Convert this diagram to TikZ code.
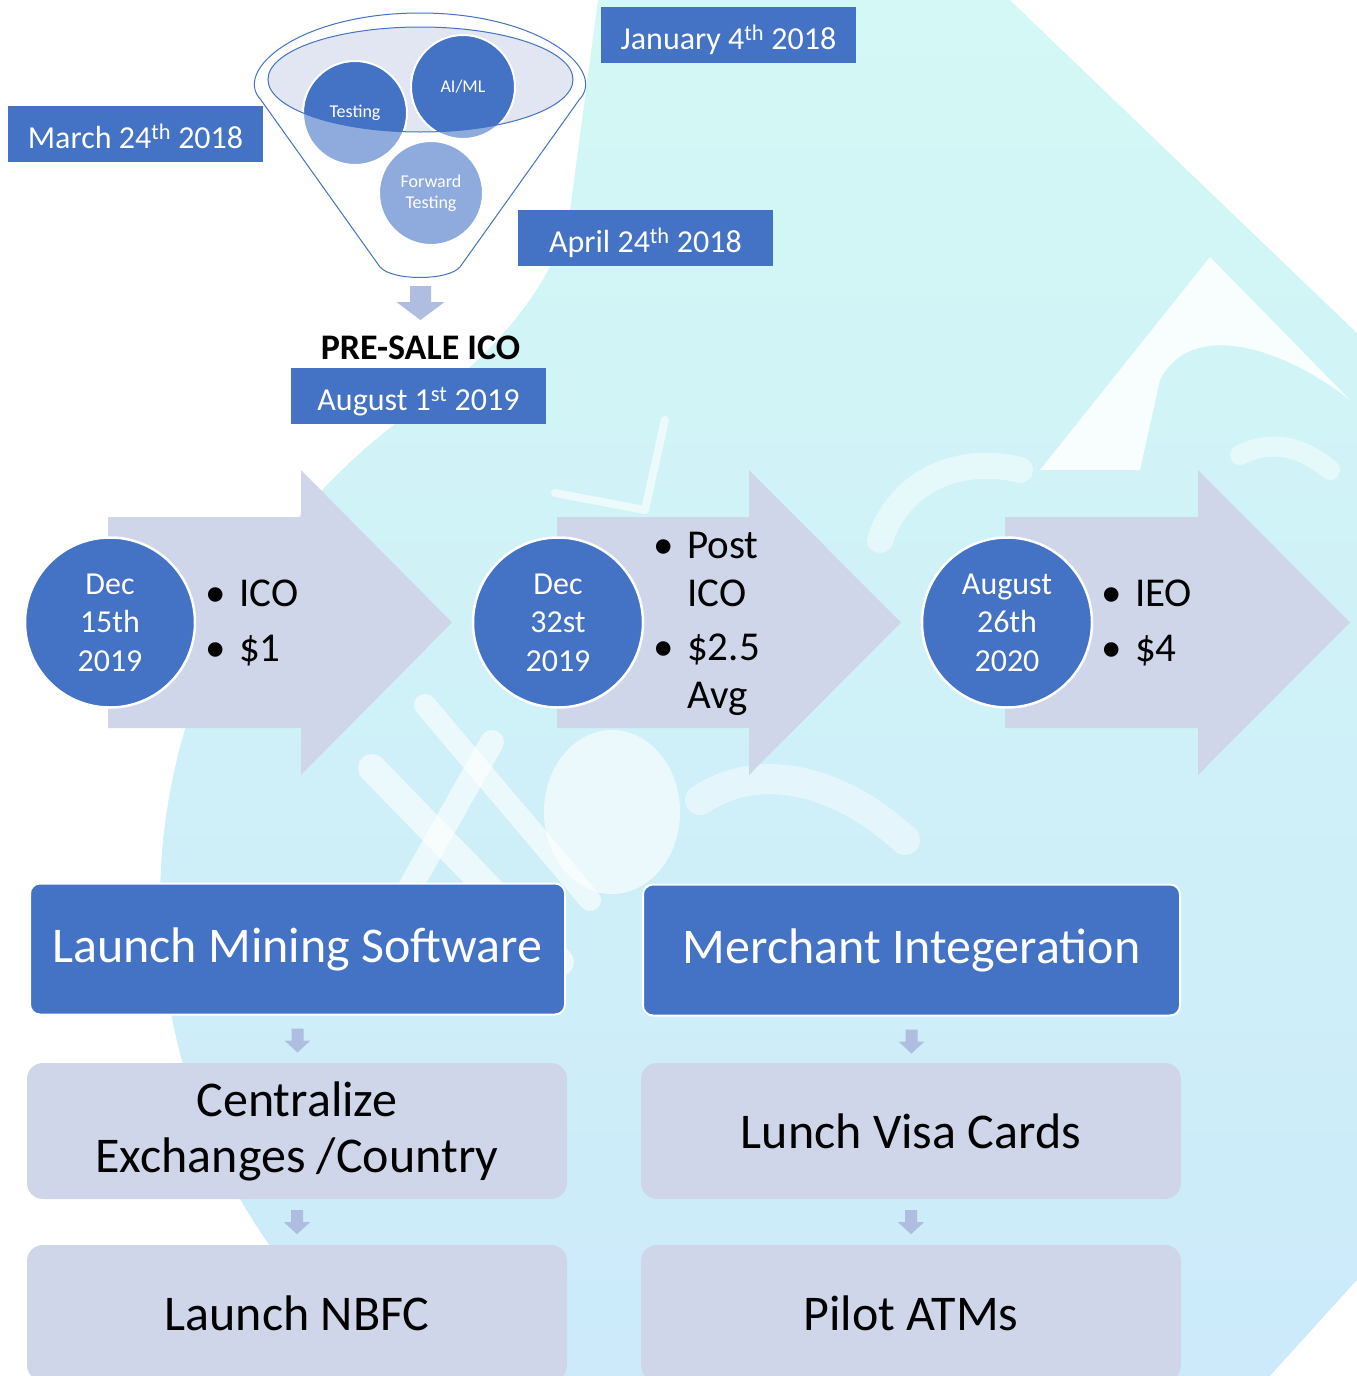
\documentclass[tikz,border=0pt]{standalone}
\usepackage{fontspec}
\setmainfont{Carlito}
\usetikzlibrary{calc}

\definecolor{boxblue}{HTML}{4472C4}
\definecolor{softblue}{HTML}{8FAADC}
\definecolor{palefill}{HTML}{D0D6EA}
\definecolor{tipfill}{HTML}{AFBDE0}
\definecolor{rimfill}{HTML}{E1E6F2}
\definecolor{bgtop}{HTML}{D3F8F5}
\definecolor{bgbottom}{HTML}{CCEAFA}

\newcommand{\fs}[2]{\fontsize{#1}{#2}\selectfont}
\newcommand{\bl}{\makebox[34pt][l]{\textbullet}}
\newcommand{\gap}{\hspace*{34pt}}

% small block arrow pointing down: top-centre, shaft half width, head half width, shaft length, head length
\newcommand{\downblock}[5]{%
  \fill[tipfill] ($(#1)+(-#2,0)$) -- ($(#1)+(#2,0)$) -- ($(#1)+(#2,#4)$) -- ($(#1)+(#3,#4)$)
    -- ($(#1)+(0,#4+#5)$) -- ($(#1)+(-#3,#4)$) -- ($(#1)+(-#2,#4)$) -- cycle;}

% wide chevron arrow of the timeline: body left, head base, tip
\newcommand{\bigarrow}[3]{%
  \fill[palefill] (#1,517) -- (#2,517) -- (#2,470) -- (#3,622.5) -- (#2,775) -- (#2,728) -- (#1,728) -- cycle;}

\tikzset{
  datebox/.style={fill=boxblue, text=white, minimum width=255pt, minimum height=56pt,
    inner sep=0pt, text height=30pt, text depth=1pt, font=\fs{32}{38}},
  disc/.style={circle, fill=boxblue, draw=white, line width=2.5pt, text=white,
    minimum size=170pt, inner sep=0pt, align=center, font=\fs{32}{38.5}},
  points/.style={anchor=west, align=left, inner sep=0pt, font=\fs{41}{48}},
  darkcard/.style={rounded corners=10pt, fill=boxblue, draw=white, line width=2pt, text=white,
    minimum width=535pt, minimum height=131pt, inner sep=0pt, font=\fs{50}{56}},
  lightcard/.style={rounded corners=16pt, fill=palefill, minimum width=540pt,
    minimum height=136pt, inner sep=0pt, align=center, font=\fs{50}{56}},
  ball/.style={circle, minimum size=104pt, inner sep=0pt, text=white, align=center,
    font=\fs{18}{21}, fill=softblue, draw=white, line width=2pt},
  darktop/.style={path picture={
    \clip (rim) ellipse [x radius=152.5pt, y radius=52.5pt];
    \fill[boxblue] (path picture bounding box.south west) rectangle (path picture bounding box.north east);}},
  haze/.style={white, opacity=0.6, line cap=round, line join=round},
}

\begin{document}
\begin{tikzpicture}[x=1pt, y=-1pt]
\useasboundingbox (0,0) rectangle (1357,1376);

% ---- watermark background ----
\shade[top color=bgtop, bottom color=bgbottom] (0,0) rectangle (1357,1376);
\fill[white] (0,0) -- (598,0) -- (570,210) .. controls (555,290) and (480,370) .. (399,421)
  -- plot[domain=53:-52, samples=50] ({760-600*cos(\x)},{900-600*sin(\x)})
  -- (370,1376) -- (0,1376) -- cycle;
\fill[white] (1010,0) -- (1357,0) -- (1357,333) -- cycle;
\fill[white, opacity=0.85] (1040,470) -- (1210,257) -- (1350,400)
  .. controls (1280,345) and (1190,320) .. (1160,380) -- (1140,470) -- cycle;
\fill[white] (1270,1376) -- (1357,1280) -- (1357,1376) -- cycle;
\draw[haze, line width=8pt] (555,493) -- (645,510) -- (665,420);
\fill[haze] (612,812) ellipse [x radius=68pt, y radius=82pt];
\draw[haze, line width=28pt] (372,768) -- (560,962);
\draw[haze, line width=22pt] (425,705) -- (590,900);
\draw[haze, line width=24pt] (492,742) -- (368,962);
\draw[haze, opacity=0.45, line width=30pt] (700,800) .. controls (760,760) and (840,780) .. (905,840);
\draw[haze, opacity=0.45, line width=26pt] (880,540) .. controls (900,480) and (960,455) .. (1020,470);
\draw[haze, opacity=0.45, line width=20pt] (1240,455) .. controls (1270,440) and (1300,445) .. (1330,470);

% ---- funnel ----
\coordinate (rim) at (420.5,79.5);
\draw[boxblue, line width=1pt] (380,267) -- (261,100) .. controls (232,70) and (300,13) .. (420,13)
  .. controls (540,13) and (608,70) .. (579,100) -- (460,267)
  .. controls (448,281) and (392,281) .. (380,267) -- cycle;
\fill[rimfill] (rim) ellipse [x radius=152.5pt, y radius=52.5pt];
\node[ball, darktop] (testing) at (355,113) {};
\node[ball, darktop] (aiml) at (463,87) {};
\node[ball] (fwd) at (431,193) {Forward\\Testing};
\draw[boxblue, line width=1pt] (rim) ellipse [x radius=152.5pt, y radius=52.5pt];
\node[font=\fs{18}{21}, text=white] (testlbl) at (testing.center) {Testing};
\node[font=\fs{18}{21}, text=white] (aimllbl) at (aiml.center) {AI/ML};

% ---- milestone dates ----
\node[datebox] (jan) at (728.5,35) {January 4\textsuperscript{th} 2018};
\node[datebox] (mar) at (135.5,134) {March 24\textsuperscript{th} 2018};
\node[datebox] (apr) at (645.5,238) {April 24\textsuperscript{th} 2018};

\node[font=\fs{36}{40}\bfseries, inner sep=0pt] (presale) at (420.5,348) {PRE-SALE ICO};
\node[datebox] (aug) at (418.5,396) {August 1\textsuperscript{st} 2019};
\coordinate (fa) at (420.5,286);
\downblock{fa}{10.5}{24}{16}{18}

% ---- timeline ----
\bigarrow{108}{301}{452}
\bigarrow{557}{749}{901}
\bigarrow{1005}{1198}{1350}
\node[disc] (d1) at (110,622.5) {Dec\\15th\\2019};
\node[disc] (d2) at (558,622.5) {Dec\\32st\\2019};
\node[disc] (d3) at (1007,622.5) {August\\26th\\2020};
\node[points] (p1) at (205,623) {\bl ICO\\[7pt]\bl \$1};
\node[points] (p2) at (653,624) {\bl Post\\\gap ICO\\[6pt]\bl \$2.5\\\gap Avg};
\node[points] (p3) at (1101,623) {\bl IEO\\[7pt]\bl \$4};

% ---- roadmap cards ----
\node[darkcard] (mining) at (297.5,949) {Launch Mining Software};
\node[darkcard, minimum width=537pt] (merchant) at (911.5,950) {Merchant Integeration};
\node[lightcard] (central) at (297,1131) {Centralize\\Exchanges /Country};
\node[lightcard] (visa) at (911,1131) {Lunch Visa Cards};
\node[lightcard] (nbfc) at (297,1313) {Launch NBFC};
\node[lightcard] (atms) at (911,1313) {Pilot ATMs};

\coordinate (s1) at ($(mining.south)+(0,13)$);
\coordinate (s2) at ($(central.south)+(0,11)$);
\coordinate (s3) at ($(merchant.south)+(0,13)$);
\coordinate (s4) at ($(visa.south)+(0,11)$);
\downblock{s1}{6}{13}{12}{12}
\downblock{s2}{6}{13}{12}{12}
\downblock{s3}{6}{13}{12}{12}
\downblock{s4}{6}{13}{12}{12}
\end{tikzpicture}
\end{document}
